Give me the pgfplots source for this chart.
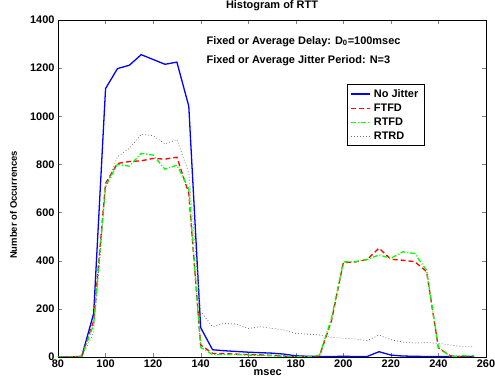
\documentclass[border=0pt]{standalone}
\usepackage{fontspec}
\setmainfont{Liberation Sans}
\usepackage{pgfplots}
\pgfplotsset{compat=1.18}
\pgfplotstableread{
x nj ftfd rtfd rtrd
80 0 0 0 0
85 0 0 0 0
90 3 2 2 2
95 181 150 135 100
100 1115 721 710 700
105 1198 804 800 832
110 1212 812 793 867
115 1256 815 846 925
120 1236 825 839 920
125 1216 822 780 885
130 1225 830 797 904
135 1042 680 700 764
140 122 50 40 190
145 30 15 10 126
150 26 14 10 140
155 23 12 10 137
160 20 10 8 118
165 18 9 7 126
170 16 7 5 119
175 12 4 3 112
180 5 1 2 98
185 3 0 0 95
190 2 5 8 91
195 2 150 160 82
200 3 392 395 78
205 2 395 396 75
210 2 405 405 68
215 22 452 424 91
220 8 406 410 72
225 4 402 437 62
230 3 396 430 58
235 2 355 360 60
240 2 37 40 57
245 2 5 2 50
250 2 0 5 43
255 2 0 5 43
}\datatable
\begin{document}
\begin{tikzpicture}
\begin{axis}[
  scale only axis, width=428bp, height=337bp,
  xmin=80, xmax=260, ymin=0, ymax=1400,
  xtick={80,100,...,260}, ytick={0,200,...,1400},
  tick align=inside, major tick length=4bp,
  xtick pos=both, ytick pos=both,
  axis line style={line width=0.8pt},
  /pgf/number format/assume math mode=true,
  /pgf/number format/1000 sep={},
  ticklabel style={font=\fontsize{11}{13}\selectfont\bfseries},
  xticklabel style={yshift=1bp},
  title={Histogram of RTT},
  title style={font=\fontsize{11}{13}\selectfont\bfseries, at={(axis description cs:0.5,1)}, anchor=center, yshift=8bp},
  xlabel={msec},
  xlabel style={font=\fontsize{11}{13}\selectfont\bfseries, at={(axis description cs:0.49,0)}, anchor=center, yshift=-15.7bp},
  ylabel={Number of Occurrences},
  ylabel style={font=\fontsize{9.5}{11}\selectfont\bfseries, at={(axis description cs:-0.104,0.451)}, anchor=center},
  legend style={at={(axis description cs:0.6745,0.809)}, anchor=north west, font=\fontsize{11}{11}\selectfont\bfseries, draw=black, line width=0.8pt, inner xsep=3bp, inner ysep=2.5bp, row sep=1bp,
    nodes={inner xsep=3.5bp}},
  legend cell align=left,
  legend image code/.code={\draw[#1] (0bp,0bp) -- (19bp,0bp);},
]
\addplot[blue, line width=1.3pt] table[x=x,y=nj] {\datatable};
\addlegendentry{No Jitter}
\addplot[red, line width=1.3pt, dash pattern=on 5pt off 3pt] table[x=x,y=ftfd] {\datatable};
\addlegendentry{FTFD}
\addplot[green, line width=1.3pt, dash pattern=on 5pt off 2pt on 1pt off 2pt] table[x=x,y=rtfd] {\datatable};
\addlegendentry{RTFD}
\addplot[black!55, line width=0.8pt, dash pattern=on 0.8pt off 2.2pt] table[x=x,y=rtrd] {\datatable};
\addlegendentry{RTRD}
\node[anchor=base west, font=\fontsize{11}{13}\selectfont\bfseries] at (axis cs:141,1299) {Fixed or Average Delay: D$_{\mathbf{0}}$=100msec};
\node[anchor=base west, font=\fontsize{11}{13}\selectfont\bfseries] at (axis cs:141,1220) {Fixed or Average Jitter Period: N=3};
\end{axis}
\pgfresetboundingbox
\path[use as bounding box] (-58bp,-26bp) rectangle (437bp,357bp);
\end{tikzpicture}
\end{document}
